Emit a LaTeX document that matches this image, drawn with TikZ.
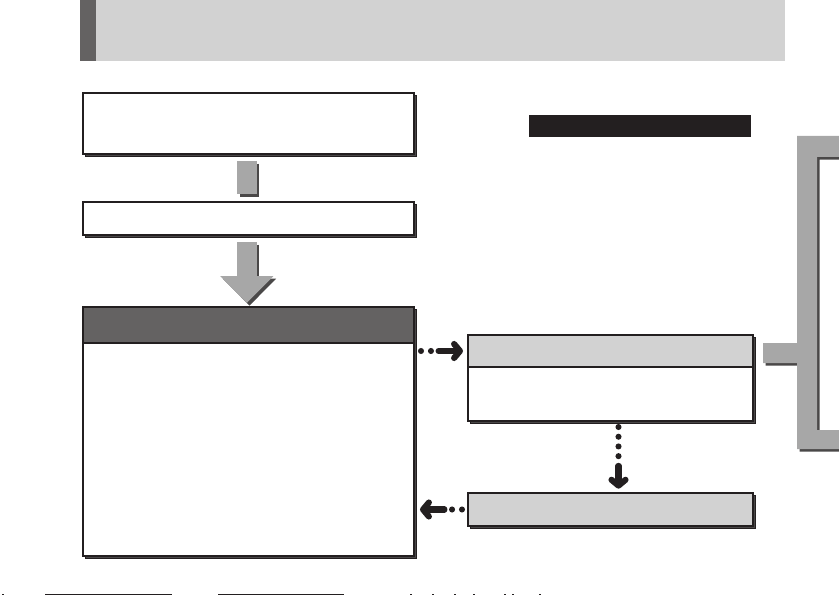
\documentclass[tikz,border=0pt]{standalone}
\usetikzlibrary{arrows.meta,fit,shadows}
\definecolor{ink}{HTML}{231F20}
\definecolor{bandgray}{HTML}{D2D2D2}
\definecolor{darkband}{HTML}{646262}
\definecolor{blockgray}{HTML}{A7A7A7}
\definecolor{shadegray}{HTML}{4A4848}
\begin{document}
\begin{tikzpicture}[x=0.03cm,y=-0.03cm,
	box/.style={draw=ink,line width=1.7pt,fill=white,inner sep=0pt,
		general shadow={fill=shadegray,draw=ink,line width=0.6pt,shadow xshift=0.08cm,shadow yshift=-0.08cm}},
	hd/.style={draw=ink,line width=1.7pt,inner sep=0pt},
	block/.style={line width=17pt,-{Triangle[length=23pt,width=44pt]}},
	dotarrow/.style={ink,line width=5.2pt,line cap=round,-{Straight Barb[round,length=5pt,width=12pt]}}]
	\useasboundingbox (0,0) rectangle (839,595);
	\fill[bandgray] (96,0) rectangle (785,61);
	\fill[darkband] (80,0) rectangle (96,61);
	\node[box,fit={(83,93) (414,154)}] (top) {};
	\node[box,fit={(83,202) (414,235)}] (mid) {};
	\node[box,fit={(83,307) (414,556)}] (main) {};
	\node[hd,fill=darkband,fit={(83,307) (414,343)}] (mainhd) {};
	\node[box,fit={(468,335) (753,421)}] (side) {};
	\node[hd,fill=bandgray,fit={(468,335) (753,367)}] (sidehd) {};
	\node[box,fill=bandgray,fit={(468,493) (753,526)}] (back) {};
	\fill[ink] (529,115) rectangle (751,137);
	\foreach \c/\s in {shadegray/0.08,blockgray/0}
	{
		\draw[\c,line width=17pt,transform canvas={xshift=\s cm,yshift=-\s cm},shorten <=0.18cm,shorten >=0.21cm]
			([xshift=-0.05cm]top.south) -- ([xshift=-0.05cm]mid.north);
		\draw[\c,block,transform canvas={xshift=\s cm,yshift=-\s cm},shorten <=0.18cm,shorten >=0.09cm]
			([xshift=-0.05cm]mid.south) -- ([xshift=-0.05cm]main.north);
		\fill[\c,transform canvas={xshift=\s cm,yshift=-\s cm}] (839,136) -- (797,136) -- (797,343) -- (763,343) -- (763,363) -- (797,363)
			-- (797,449) -- (839,449) -- (839,430) -- (817,430) -- (817,157) -- (839,157) -- cycle;
	}
	\draw[dotarrow,dash pattern=on 0pt off 8.5pt on 0pt off 6.5pt on 60pt,shorten <=0.18cm,shorten >=0.12cm]
		(main.east |- sidehd.west) -- (sidehd.west);
	\draw[dotarrow,dash pattern=on 0pt off 8.3pt on 0pt off 8.3pt on 0pt off 8.3pt on 0pt off 8.3pt on 60pt,shorten <=0.15cm,shorten >=0.1cm]
		([xshift=0.24cm]side.south) -- ([xshift=0.24cm]back.north);
	\draw[dotarrow,dash pattern=on 0pt off 8.5pt on 0pt off 6.5pt on 60pt,shorten <=0.15cm,shorten >=0.15cm]
		(back.west) -- (back.west -| main.east);
	\draw[ink,line width=0.85pt] (45,594.5) -- (172,594.5) (218,594.5) -- (344,594.5);
	\foreach \x in {2,410,432,454,473,504,512,539}
		\fill[ink] (\x,594) rectangle ++(2,1);
\end{tikzpicture}
\end{document}
